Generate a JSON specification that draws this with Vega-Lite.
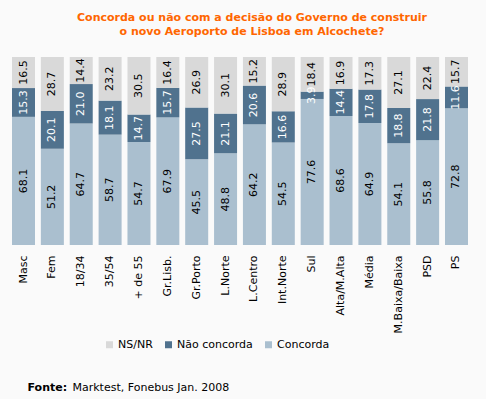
{
  "$schema": "https://vega.github.io/schema/vega-lite/v6.json",
  "width": 456,
  "height": 188,
  "autosize": "none",
  "padding": {"left": 12, "top": 57, "right": 18, "bottom": 154},
  "background": "#fafafa",
  "config": {
    "view": {"stroke": null},
    "font": "DejaVu Sans"
  },
  "title": {
    "text": ["Concorda ou não com a decisão do Governo de construir", "o novo Aeroporto de Lisboa em Alcochete?"],
    "color": "#ff6600",
    "font": "DejaVu Sans",
    "fontSize": 11,
    "fontWeight": "bold",
    "lineHeight": 14,
    "anchor": "middle",
    "frame": "group",
    "dx": 12,
    "offset": 20
  },
  "data": {
    "values": [
      {"g": "Masc", "Concorda": 68.1, "Não concorda": 15.3, "NS/NR": 16.5},
      {"g": "Fem", "Concorda": 51.2, "Não concorda": 20.1, "NS/NR": 28.7},
      {"g": "18/34", "Concorda": 64.7, "Não concorda": 21.0, "NS/NR": 14.4},
      {"g": "35/54", "Concorda": 58.7, "Não concorda": 18.1, "NS/NR": 23.2},
      {"g": "+ de 55", "Concorda": 54.7, "Não concorda": 14.7, "NS/NR": 30.5},
      {"g": "Gr.Lisb.", "Concorda": 67.9, "Não concorda": 15.7, "NS/NR": 16.4},
      {"g": "Gr.Porto", "Concorda": 45.5, "Não concorda": 27.5, "NS/NR": 26.9},
      {"g": "L.Norte", "Concorda": 48.8, "Não concorda": 21.1, "NS/NR": 30.1},
      {"g": "L.Centro", "Concorda": 64.2, "Não concorda": 20.6, "NS/NR": 15.2},
      {"g": "Int.Norte", "Concorda": 54.5, "Não concorda": 16.6, "NS/NR": 28.9},
      {"g": "Sul", "Concorda": 77.6, "Não concorda": 3.9, "NS/NR": 18.4},
      {"g": "Alta/M.Alta", "Concorda": 68.6, "Não concorda": 14.4, "NS/NR": 16.9},
      {"g": "Média", "Concorda": 64.9, "Não concorda": 17.8, "NS/NR": 17.3},
      {"g": "M.Baixa/Baixa", "Concorda": 54.1, "Não concorda": 18.8, "NS/NR": 27.1},
      {"g": "PSD", "Concorda": 55.8, "Não concorda": 21.8, "NS/NR": 22.4},
      {"g": "PS", "Concorda": 72.8, "Não concorda": 11.6, "NS/NR": 15.7}
    ]
  },
  "transform": [
    {"fold": ["Concorda", "Não concorda", "NS/NR"], "as": ["s", "v"]},
    {"calculate": "indexof(['Concorda','Não concorda','NS/NR'], datum.s)", "as": "o"}
  ],
  "encoding": {
    "x": {
      "field": "g",
      "type": "nominal",
      "sort": null,
      "scale": {"paddingInner": 0.203, "paddingOuter": 0},
      "axis": {
        "labelAngle": -90,
        "labelAlign": "right",
        "labelBaseline": "middle",
        "labelPadding": 10,
        "labelFontSize": 11,
        "labelColor": "#000000",
        "labelFont": "DejaVu Sans",
        "domain": false,
        "ticks": false,
        "title": "Fonte:",
        "titleFont": "DejaVu Sans",
        "titleFontSize": 11,
        "titleFontWeight": "bold",
        "titleColor": "#000000",
        "titleAnchor": "start",
        "titleAlign": "left",
        "titleBaseline": "alphabetic",
        "titleX": 15,
        "titleY": 145
      }
    },
    "y": {
      "field": "v",
      "type": "quantitative",
      "stack": "normalize",
      "axis": {
        "domain": false,
        "ticks": false,
        "labels": false,
        "grid": false,
        "title": "Marktest, Fonebus Jan. 2008",
        "titleAngle": 0,
        "titleFont": "DejaVu Sans",
        "titleFontSize": 11,
        "titleFontWeight": "normal",
        "titleColor": "#000000",
        "titleAlign": "left",
        "titleBaseline": "alphabetic",
        "titleX": 60,
        "titleY": 333
      }
    },
    "order": {"field": "o", "type": "quantitative"}
  },
  "layer": [
    {
      "mark": {"type": "bar"},
      "encoding": {
        "color": {
          "field": "s",
          "type": "nominal",
          "scale": {
            "domain": ["NS/NR", "Não concorda", "Concorda"],
            "range": ["#d9d9d9", "#50728e", "#aabfcf"]
          },
          "legend": {
            "title": null,
            "orient": "none",
            "direction": "horizontal",
            "legendX": 92,
            "legendY": 282,
            "symbolType": "square",
            "symbolSize": 49,
            "symbolStrokeWidth": 0,
            "labelFont": "DejaVu Sans",
            "labelFontSize": 11,
            "labelColor": "#000000",
            "labelOffset": 3,
            "columnPadding": 10,
            "padding": 0
          }
        }
      }
    },
    {
      "mark": {"type": "text", "angle": -90, "fontSize": 11, "font": "DejaVu Sans", "baseline": "middle", "align": "center"},
      "encoding": {
        "y": {"field": "v", "type": "quantitative", "stack": "normalize", "bandPosition": 0.5},
        "text": {"field": "v", "type": "quantitative", "format": ".1f"},
        "color": {
          "condition": {"test": "datum.s === 'Não concorda'", "value": "#ffffff"},
          "value": "#000000"
        }
      }
    }
  ]
}
